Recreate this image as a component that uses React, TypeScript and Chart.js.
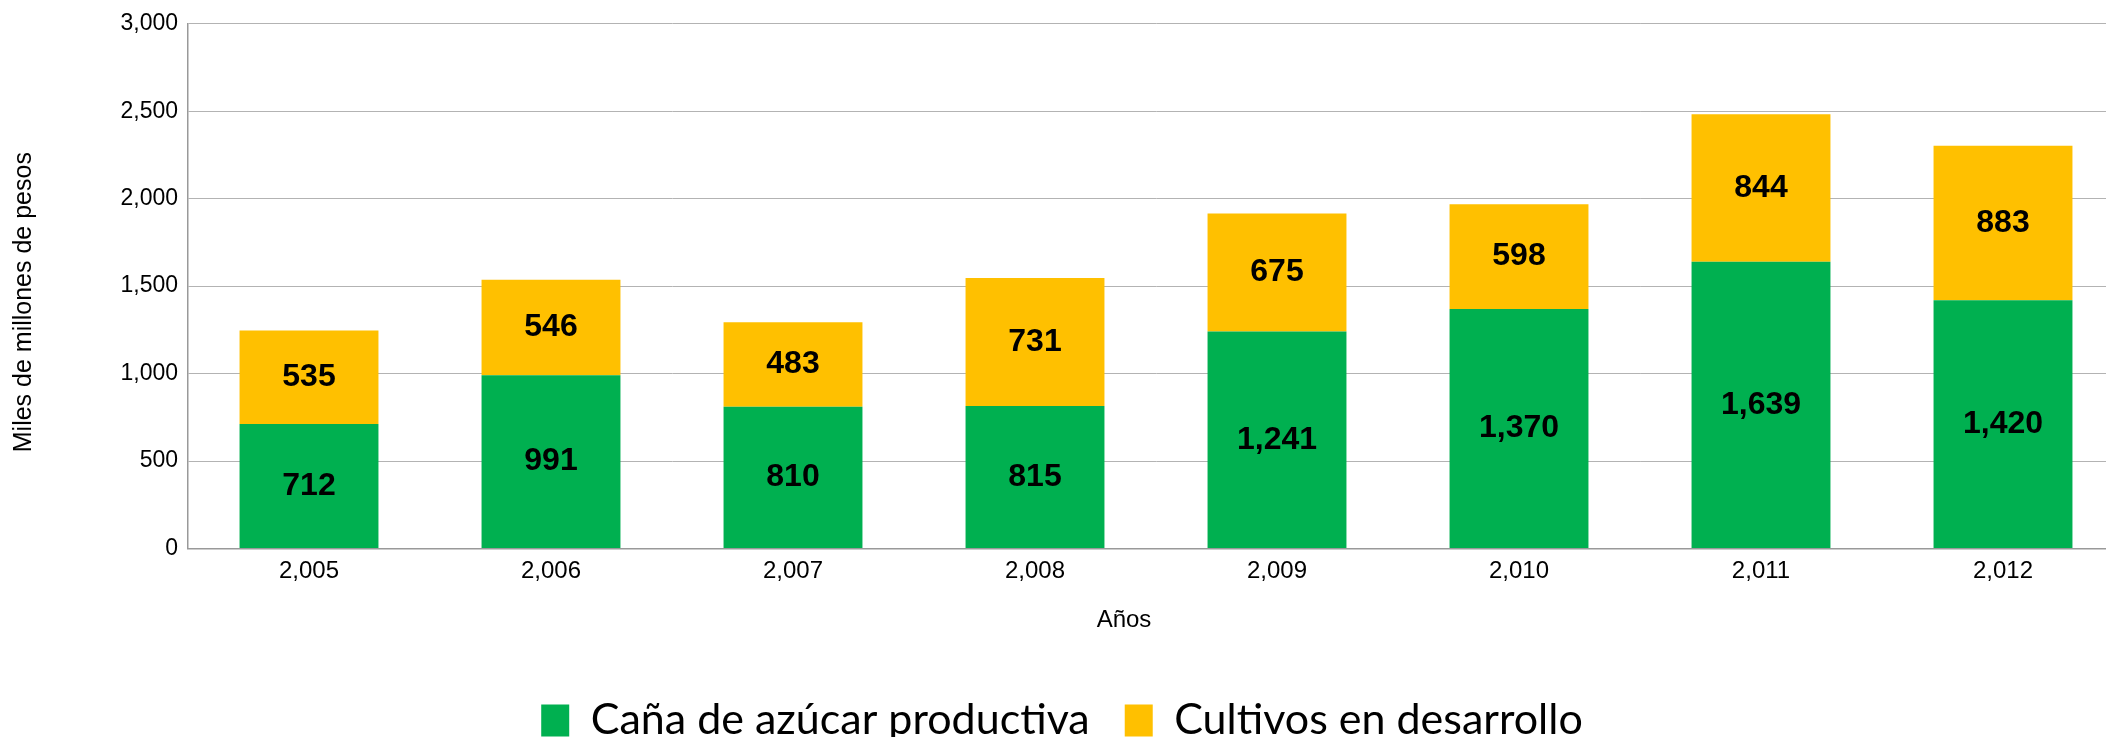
import React, { useEffect, useRef } from 'react';
import { Chart, registerables } from 'chart.js';

Chart.register(...registerables);

const YEARS = ['2,005', '2,006', '2,007', '2,008', '2,009', '2,010', '2,011', '2,012'];
const CANA_PRODUCTIVA = [712, 991, 810, 815, 1241, 1370, 1639, 1420];
const CULTIVOS_DESARROLLO = [535, 546, 483, 731, 675, 598, 844, 883];
const SERIES_NAMES = ['Caña de azúcar productiva', 'Cultivos en desarrollo'];
const SERIES_COLORS = ['#00b050', '#ffc000'];
const Y_MIN = 0;
const Y_MAX = 3000;
const Y_STEP = 500;
const Y_TITLE = 'Miles de millones de pesos';
const X_TITLE = 'Años';

const ARIAL = '"Liberation Sans", Arial, Helvetica, sans-serif';
const fmt = (v: number) => Number(v).toLocaleString('en-US');

const valueLabels = {
  id: 'valueLabels',
  afterDatasetsDraw(chart: any) {
    const ctx = chart.ctx;
    ctx.save();
    ctx.font = `bold 32px ${ARIAL}`;
    ctx.fillStyle = '#000';
    ctx.textAlign = 'center';
    ctx.textBaseline = 'middle';
    chart.data.datasets.forEach((ds: any, i: number) => {
      const meta = chart.getDatasetMeta(i);
      meta.data.forEach((el: any, j: number) => {
        const p = el.getProps(['x', 'y', 'base'], true);
        ctx.fillText(fmt(ds.data[j]), p.x, (p.y + p.base) / 2);
      });
    });
    ctx.restore();
  },
};

const axisTitles = {
  id: 'axisTitles',
  afterDraw(chart: any) {
    const { ctx, chartArea } = chart;
    ctx.save();
    ctx.fillStyle = '#000';
    ctx.textAlign = 'center';
    ctx.textBaseline = 'middle';
    ctx.font = `24px ${ARIAL}`;
    ctx.fillText(X_TITLE, (chartArea.left + chartArea.right) / 2 - 32, chartArea.bottom + 72);
    ctx.translate(24, (chartArea.top + chartArea.bottom) / 2 + 16);
    ctx.rotate(-Math.PI / 2);
    ctx.font = `25px ${ARIAL}`;
    ctx.fillText(Y_TITLE, 0, 0);
    ctx.restore();
  },
};

export default function App() {
  const canvasRef = useRef<HTMLCanvasElement | null>(null);

  useEffect(() => {
    if (!canvasRef.current) return;
    Chart.defaults.font.family = ARIAL;
    const chart = new Chart(canvasRef.current, {
      type: 'bar',
      data: {
        labels: YEARS,
        datasets: [
          {
            label: SERIES_NAMES[0],
            data: CANA_PRODUCTIVA,
            backgroundColor: SERIES_COLORS[0],
            borderWidth: 0,
            barPercentage: 0.574,
            categoryPercentage: 1,
          },
          {
            label: SERIES_NAMES[1],
            data: CULTIVOS_DESARROLLO,
            backgroundColor: SERIES_COLORS[1],
            borderWidth: 0,
            barPercentage: 0.574,
            categoryPercentage: 1,
          },
        ],
      },
      options: {
        animation: false,
        responsive: false,
        layout: { padding: { top: 23, left: 0, right: 0, bottom: 0 } },
        plugins: {
          legend: {
            position: 'bottom',
            labels: {
              font: { family: 'Lato', size: 43 },
              color: '#000',
              boxWidth: 28,
              boxHeight: 32,
              padding: 35,
            },
          },
          tooltip: { enabled: false },
          title: { display: false },
        },
        scales: {
          x: {
            stacked: true,
            grid: { drawOnChartArea: false, drawTicks: false },
            border: { color: '#999999', width: 1.5 },
            ticks: { font: { size: 24 }, color: '#000', padding: 8, maxRotation: 0 },
            afterFit: (s: any) => {
              s.height = 115.5;
            },
          },
          y: {
            stacked: true,
            min: Y_MIN,
            max: Y_MAX,
            grid: { color: '#b3b3b3', lineWidth: 1, drawTicks: false },
            border: { color: '#999999', width: 1.5 },
            ticks: {
              stepSize: Y_STEP,
              font: { size: 23 },
              color: '#000',
              padding: 10,
              callback: (v: any) => fmt(v),
            },
            afterFit: (s: any) => {
              s.width = 188;
            },
          },
        },
      },
      plugins: [valueLabels, axisTitles],
    } as any);
    return () => chart.destroy();
  }, []);

  return (
    <div
      style={{
        position: 'absolute',
        left: 0,
        top: 0,
        width: 2106,
        height: 737,
        overflow: 'hidden',
        background: '#fff',
      }}
    >
      <canvas ref={canvasRef} width={2124} height={752} style={{ display: 'block' }} />
    </div>
  );
}
